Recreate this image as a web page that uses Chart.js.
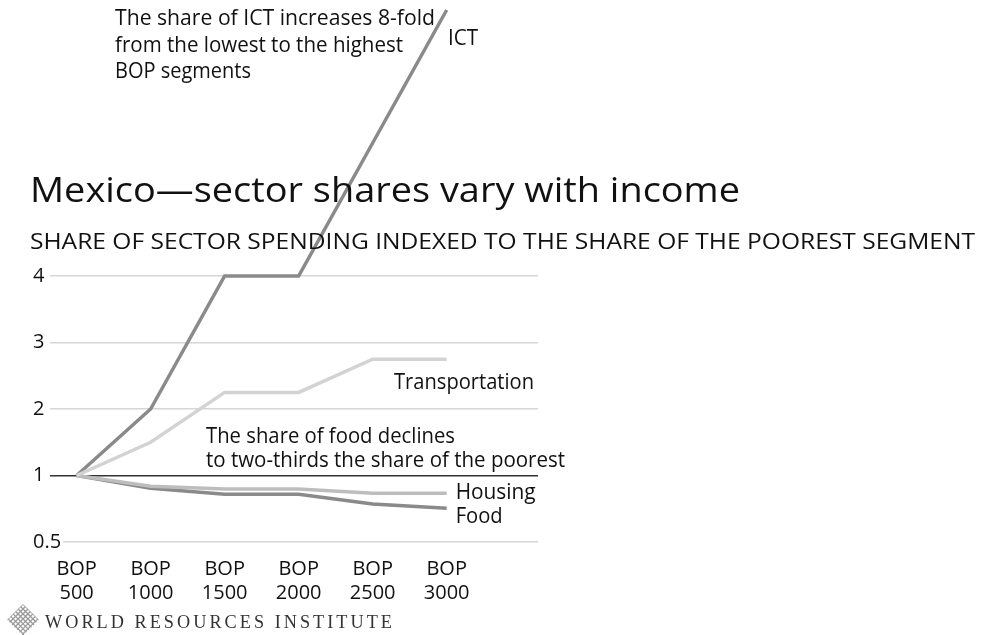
<!DOCTYPE html>
<html>
<head>
<meta charset="utf-8">
<script src="https://cdn.jsdelivr.net/npm/chart.js@4.4.1/dist/chart.umd.min.js"></script>
<style>
  html, body { margin: 0; padding: 0; background: #fff; }
  #wrap { width: 984px; height: 635px; position: relative; }
</style>
</head>
<body>
<div id="wrap"><canvas id="chart" width="984" height="635"></canvas></div>
<script>
// income segments (x axis)
const bopLevels = [500, 1000, 1500, 2000, 2500, 3000];

// share of sector spending, indexed to the poorest segment (= 1)
const ictShare = [1, 2, 4, 4, 6, 8];
const transportShare = [1, 1.5, 2.25, 2.25, 2.75, 2.75];
const housingShare = [1, 0.86, 0.83, 0.83, 0.79, 0.79];
const foodShare = [1, 0.84, 0.78, 0.78, 0.7, 0.67];

// y tick labels
const yTicks = [0.5, 1, 2, 3, 4];

const FONT = '"Open Sans", "Noto Sans", sans-serif';

// the source axis is linear above 1 and uses the inverse ratio below 1
// (0.5 sits one step under 1, two-thirds half a step)
function toAxis(v) {
  return v >= 1 ? v : 2 - 1 / v;
}

function toPoints(values) {
  return values.map((v, i) => ({ x: bopLevels[i], y: toAxis(v) }));
}

// draw text, squeezed horizontally to the width it has in the original
function fitText(ctx, text, x, y, size, width, opts = {}) {
  ctx.save();
  ctx.font = `${opts.weight || 'normal'} ${size}px ${opts.family || FONT}`;
  if (opts.spacing) ctx.letterSpacing = opts.spacing + 'px';
  ctx.fillStyle = opts.color || '#111';
  ctx.textBaseline = opts.baseline || 'alphabetic';
  ctx.textAlign = 'left';
  const w = ctx.measureText(text).width;
  const k = width ? width / w : 1;
  if (opts.backdrop) {
    ctx.fillStyle = '#fff';
    ctx.fillRect(x - 1, y - size / 2, w * k + 3, size);
    ctx.fillStyle = opts.color || '#111';
  }
  ctx.translate(x, y);
  ctx.scale(k, 1);
  ctx.fillText(text, 0, 0);
  ctx.restore();
}

function drawLogo(ctx, cx, cy, r) {
  ctx.save();
  ctx.translate(cx, cy);
  ctx.rotate(Math.PI / 4);
  const s = r / Math.SQRT2;
  ctx.beginPath();
  ctx.rect(-s, -s, 2 * s, 2 * s);
  ctx.clip();
  ctx.strokeStyle = '#9a9a9a';
  ctx.lineWidth = 1.3;
  for (let t = -s; t <= s; t += 3.5) {
    ctx.beginPath();
    ctx.moveTo(t, -s);
    ctx.lineTo(t, s);
    ctx.moveTo(-s, t);
    ctx.lineTo(s, t);
    ctx.stroke();
  }
  ctx.restore();
}

const labelsPlugin = {
  id: 'labels',
  beforeDraw(chart) {
    const ctx = chart.ctx;
    ctx.save();
    ctx.fillStyle = '#fff';
    ctx.fillRect(0, 0, chart.width, chart.height);
    ctx.restore();
  },
  afterDatasetsDraw(chart) {
    const ctx = chart.ctx;
    const xs = chart.scales.x;
    const ys = chart.scales.y;
    const endX = xs.getPixelForValue(bopLevels[bopLevels.length - 1]);

    // y tick labels (drawn here so "0.5" can spill into the plot like the original)
    yTicks.forEach(v => {
      fitText(ctx, String(v), 33, ys.getPixelForValue(toAxis(v)), 20, null,
        { baseline: 'middle', backdrop: v < 1 });
    });

    // headings
    fitText(ctx, 'Mexico\u2014sector shares vary with income', 30, 202, 35, 710);
    fitText(ctx, 'SHARE OF SECTOR SPENDING INDEXED TO THE SHARE OF THE POOREST SEGMENT', 30, 249, 22, 945);

    // ICT note
    fitText(ctx, 'The share of ICT increases 8-fold', 115, 25, 21, 320);
    fitText(ctx, 'from the lowest to the highest', 115, 52, 21, 288);
    fitText(ctx, 'BOP segments', 115, 78, 21, 136);

    // food note
    fitText(ctx, 'The share of food declines', 206, 443, 21, 249);
    fitText(ctx, 'to two-thirds the share of the poorest', 206, 467, 21, 359);

    // series labels
    fitText(ctx, 'ICT', 448, 45, 21, 30);
    fitText(ctx, 'Transportation', 394, ys.getPixelForValue(toAxis(transportShare[5])) + 30, 21, 140);
    fitText(ctx, 'Housing', endX + 9, 499, 21, 80);
    fitText(ctx, 'Food', endX + 9, 523, 21, 47);

    // footer
    drawLogo(ctx, 23, 620, 16);
    fitText(ctx, 'WORLD RESOURCES INSTITUTE', 45, 628, 18, 350,
      { family: '"Liberation Serif", "DejaVu Serif", serif', color: '#333', spacing: 3 });
  }
};

function lineSet(label, values, color) {
  return {
    label,
    data: toPoints(values),
    borderColor: color,
    borderWidth: 3.5,
    pointRadius: 0,
    tension: 0,
    clip: false,
    borderJoinStyle: 'miter'
  };
}

new Chart(document.getElementById('chart'), {
  type: 'line',
  data: {
    datasets: [
      lineSet('Transportation', transportShare, '#d3d3d3'),
      lineSet('Housing', housingShare, '#bdbdbd'),
      lineSet('Food', foodShare, '#8a8a8a'),
      lineSet('ICT', ictShare, '#8a8a8a')
    ]
  },
  options: {
    responsive: false,
    animation: false,
    layout: { padding: { top: 276, left: 33, right: 446, bottom: 0 } },
    plugins: {
      legend: { display: false },
      tooltip: { enabled: false }
    },
    scales: {
      x: {
        type: 'linear',
        min: 320,
        max: 3617,
        afterBuildTicks: scale => { scale.ticks = bopLevels.map(v => ({ value: v })); },
        afterFit: scale => { scale.height = 93; },
        grid: { display: false },
        border: { display: false },
        ticks: {
          autoSkip: false,
          maxRotation: 0,
          padding: 7,
          color: '#111',
          font: { family: FONT, size: 20 },
          callback: v => ['BOP', String(v)]
        }
      },
      y: {
        type: 'linear',
        min: 0,
        max: 4,
        afterBuildTicks: scale => { scale.ticks = yTicks.map(v => ({ value: toAxis(v) })); },
        afterFit: scale => { scale.width = 17; },
        grid: {
          color: c => (c.tick && c.tick.value === 1 ? '#333' : '#d6d6d6'),
          lineWidth: 1.5,
          drawTicks: false
        },
        border: { display: false },
        ticks: { display: false }
      }
    }
  },
  plugins: [labelsPlugin]
});
</script>
</body>
</html>
